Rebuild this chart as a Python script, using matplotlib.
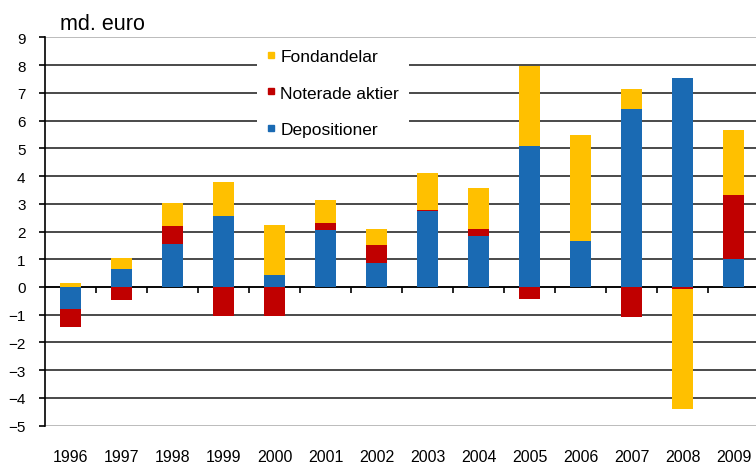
import numpy as np
import matplotlib.pyplot as plt
from matplotlib.lines import Line2D

plt.rcParams['font.family'] = ['Liberation Sans', 'DejaVu Sans']

years = ['1996', '1997', '1998', '1999', '2000', '2001', '2002',
         '2003', '2004', '2005', '2006', '2007', '2008', '2009']
depositioner = [-0.78, 0.66, 1.56, 2.56, 0.44, 2.04, 0.86,
                2.73, 1.85, 5.08, 1.67, 6.40, 7.55, 1.02]
noterade = [-0.67, -0.48, 0.64, -1.03, -1.03, 0.28, 0.64,
            0.05, 0.25, -0.42, 0.0, -1.08, -0.07, 2.29]
fondandelar = [0.15, 0.38, 0.84, 1.22, 1.81, 0.81, 0.58,
               1.32, 1.48, 2.90, 3.82, 0.74, -4.32, 2.35]

names = ['Depositioner', 'Noterade aktier', 'Fondandelar']
series = [depositioner, noterade, fondandelar]
colors = ['#1A6AB3', '#C00000', '#FFC000']

fig = plt.figure(figsize=(7.56, 4.64), dpi=100)
ax = fig.add_axes([45 / 756, 1 - 426.7 / 464, 714 / 756, 388.4 / 464])

x = np.arange(len(years))
pos_bottom = np.zeros(len(years))
neg_bottom = np.zeros(len(years))
for vals, col in zip(series, colors):
    v = np.array(vals)
    bottom = np.where(v >= 0, pos_bottom, neg_bottom)
    ax.bar(x, v, width=0.4, bottom=bottom, color=col, zorder=3)
    pos_bottom += np.clip(v, 0, None)
    neg_bottom += np.clip(v, None, 0)

ax.set_xlim(-0.5, len(years) - 0.5)
ax.set_ylim(-5, 9)
ax.set_yticks(range(-5, 10))
ax.set_xticks(x)
ax.set_xticklabels(years)

ax.set_axisbelow(True)
ax.yaxis.grid(True, color='#2b2b2b', linewidth=1.2)
gl = ax.get_ygridlines()
gl[0].set_color('#b0b0b0')
gl[-1].set_color('#b0b0b0')

# zero line with category separator ticks
ax.axhline(0, color='black', linewidth=1.2, zorder=2)
ax.vlines(x[:-1] + 0.5, 0, -0.2, color='black', linewidth=1.2, zorder=2)

for s in ['top', 'right', 'bottom']:
    ax.spines[s].set_visible(False)
ax.spines['left'].set_linewidth(1.2)

ax.tick_params(axis='y', direction='out', length=4, width=1.2, pad=10, labelsize=11)
ax.tick_params(axis='x', length=0, pad=17, labelsize=11.5)

fig.text(60 / 756, 1 - 30.5 / 464, 'md. euro', fontsize=15.5, ha='left', va='baseline')

handles = [Line2D([], [], linestyle='none', marker='s', markersize=4.5,
                  color=c) for c in colors[::-1]]
leg = fig.legend(handles, names[::-1], loc='upper left',
                 bbox_to_anchor=(257 / 756, 1 - 40 / 464),
                 bbox_transform=fig.transFigure, borderaxespad=0,
                 fontsize=12.5, frameon=True, facecolor='white', edgecolor='none',
                 framealpha=1, fancybox=False, handlelength=0.5,
                 handletextpad=0.3, labelspacing=1.25, borderpad=0.55)

fig.savefig('out.png', dpi=100)
